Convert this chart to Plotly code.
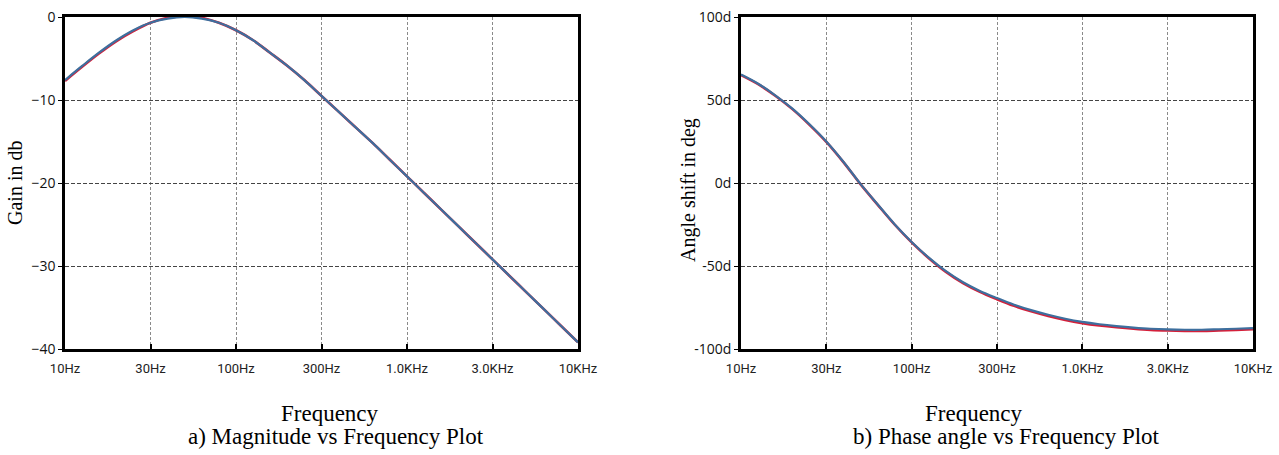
import plotly.graph_objects as go

# Frequencies (Hz), 1/10-decade steps
freq = [10, 12.6, 15.8, 20, 25.1, 31.6, 39.8, 50.1, 63.1, 79.4,
        100, 126, 158, 200, 251, 316, 398, 501, 631, 794,
        1000, 1259, 1585, 1995, 2512, 3162, 3981, 5012, 6310, 7943, 10000]

gain_blue = [-7.6, -5.9, -4.3, -2.8, -1.6, -0.7, -0.2, 0.0, -0.2, -0.7,
             -1.6, -2.8, -4.3, -5.9, -7.6, -9.5, -11.4, -13.3, -15.2, -17.2,
             -19.2, -21.2, -23.2, -25.2, -27.2, -29.2, -31.2, -33.2, -35.2, -37.2, -39.2]
gain_red = [-7.7, -6.0, -4.4, -2.9, -1.7, -0.7, -0.1, 0.1, -0.1, -0.7,
            -1.6, -2.8, -4.3, -5.9, -7.6, -9.5, -11.4, -13.3, -15.2, -17.2,
            -19.2, -21.2, -23.2, -25.2, -27.2, -29.2, -31.2, -33.2, -35.2, -37.2, -39.2]

phase_blue = [65.3, 59.8, 53.0, 44.8, 35.5, 25.0, 12.8, -0.5, -12.8, -24.8,
              -35.5, -45.0, -53.0, -59.8, -65.0, -69.3, -73.3, -76.6, -79.4, -81.8,
              -83.7, -85.1, -86.2, -87.1, -87.8, -88.2, -88.4, -88.4, -88.1, -87.8, -87.4]
phase_red = [65.0, 59.5, 52.7, 44.5, 35.2, 24.8, 12.6, -0.7, -13.0, -25.0,
             -35.8, -45.3, -53.4, -60.3, -65.6, -70.0, -74.0, -77.3, -80.1, -82.5,
             -84.4, -85.8, -86.9, -87.8, -88.5, -88.9, -89.1, -89.1, -88.8, -88.5, -88.1]

xtick_vals = [10, 31.6228, 100, 316.228, 1000, 3162.28, 10000]
xtick_text = ["10Hz", "30Hz", "100Hz", "300Hz", "1.0KHz", "3.0KHz", "10KHz"]
gain_ticks = [-40, -30, -20, -10, 0]
phase_ticks = [-100, -50, 0, 50, 100]
phase_tick_text = ["-100d", "-50d", "0d", "50d", "100d"]

BLUE = "#3d6f9e"
RED = "#d4203a"

fig = go.Figure()
for xs, ys, col, w, xa, ya in [
    (freq, gain_red, RED, 2.6, "x", "y"),
    (freq, gain_blue, BLUE, 2.2, "x", "y"),
    (freq, phase_red, RED, 2.6, "x2", "y2"),
    (freq, phase_blue, BLUE, 2.2, "x2", "y2"),
]:
    fig.add_trace(go.Scatter(x=xs, y=ys, mode="lines",
                             line=dict(color=col, width=w, shape="spline", smoothing=1.0),
                             xaxis=xa, yaxis=ya, showlegend=False))

W, H = 1279, 455
left1, right1 = 65 / W, 578 / W
left2, right2 = 741 / W, 1253 / W
ybot, ytop = 1 - 349 / H, 1 - 17 / H

xfont = dict(family="Liberation Sans Narrow, Roboto, sans-serif", size=13, color="#222")
yfont = dict(family="Open Sans, sans-serif", size=14, color="#111")

common_x = dict(type="log", range=[1, 4], tickvals=xtick_vals, ticktext=xtick_text,
                showgrid=True, gridcolor="#8a8a8a", griddash="3px,2px", gridwidth=1,
                showline=True, linecolor="black", linewidth=2.5, mirror=True,
                ticks="inside", ticklen=5, tickcolor="black", tickwidth=1.5,
                tickfont=xfont, zeroline=False, automargin=False, ticklabelstandoff=6)
common_y = dict(showgrid=True, gridcolor="#444", griddash="4px,2px", gridwidth=1,
                showline=True, linecolor="black", linewidth=2.5, mirror=True,
                ticks="outside", ticklen=4, tickcolor="black", tickwidth=1,
                tickfont=yfont, zeroline=False, automargin=False)

fig.update_layout(
    width=W, height=H,
    margin=dict(l=0, r=0, t=0, b=0, autoexpand=False),
    paper_bgcolor="white", plot_bgcolor="white",
    xaxis=dict(domain=[left1, right1], anchor="y", **common_x),
    yaxis=dict(domain=[ybot, ytop], anchor="x", range=[-40, 0], tickvals=gain_ticks, **common_y),
    xaxis2=dict(domain=[left2, right2], anchor="y2", **common_x),
    yaxis2=dict(domain=[ybot, ytop], anchor="x2", range=[-100, 100], tickvals=phase_ticks,
                ticktext=phase_tick_text, **common_y),
)

serif = "Liberation Serif, Times New Roman, serif"
annotations = [
    dict(text="Gain in db", x=15 / W, y=1 - 183 / H, textangle=-90, font=dict(family=serif, size=20)),
    dict(text="Angle shift in deg", x=688 / W, y=1 - 190 / H, textangle=-90, font=dict(family=serif, size=20)),
    dict(text="Frequency", x=330 / W, y=1 - 413 / H, font=dict(family=serif, size=23)),
    dict(text="a) Magnitude vs Frequency Plot", x=336 / W, y=1 - 436 / H, font=dict(family=serif, size=23)),
    dict(text="Frequency", x=974 / W, y=1 - 413 / H, font=dict(family=serif, size=23)),
    dict(text="b) Phase angle vs Frequency Plot", x=1006 / W, y=1 - 436 / H, font=dict(family=serif, size=23)),
]
for a in annotations:
    a.update(xref="paper", yref="paper", showarrow=False, xanchor="center", yanchor="middle")
    a["font"]["color"] = "black"
fig.update_layout(annotations=annotations)

fig.write_html("out.html")
